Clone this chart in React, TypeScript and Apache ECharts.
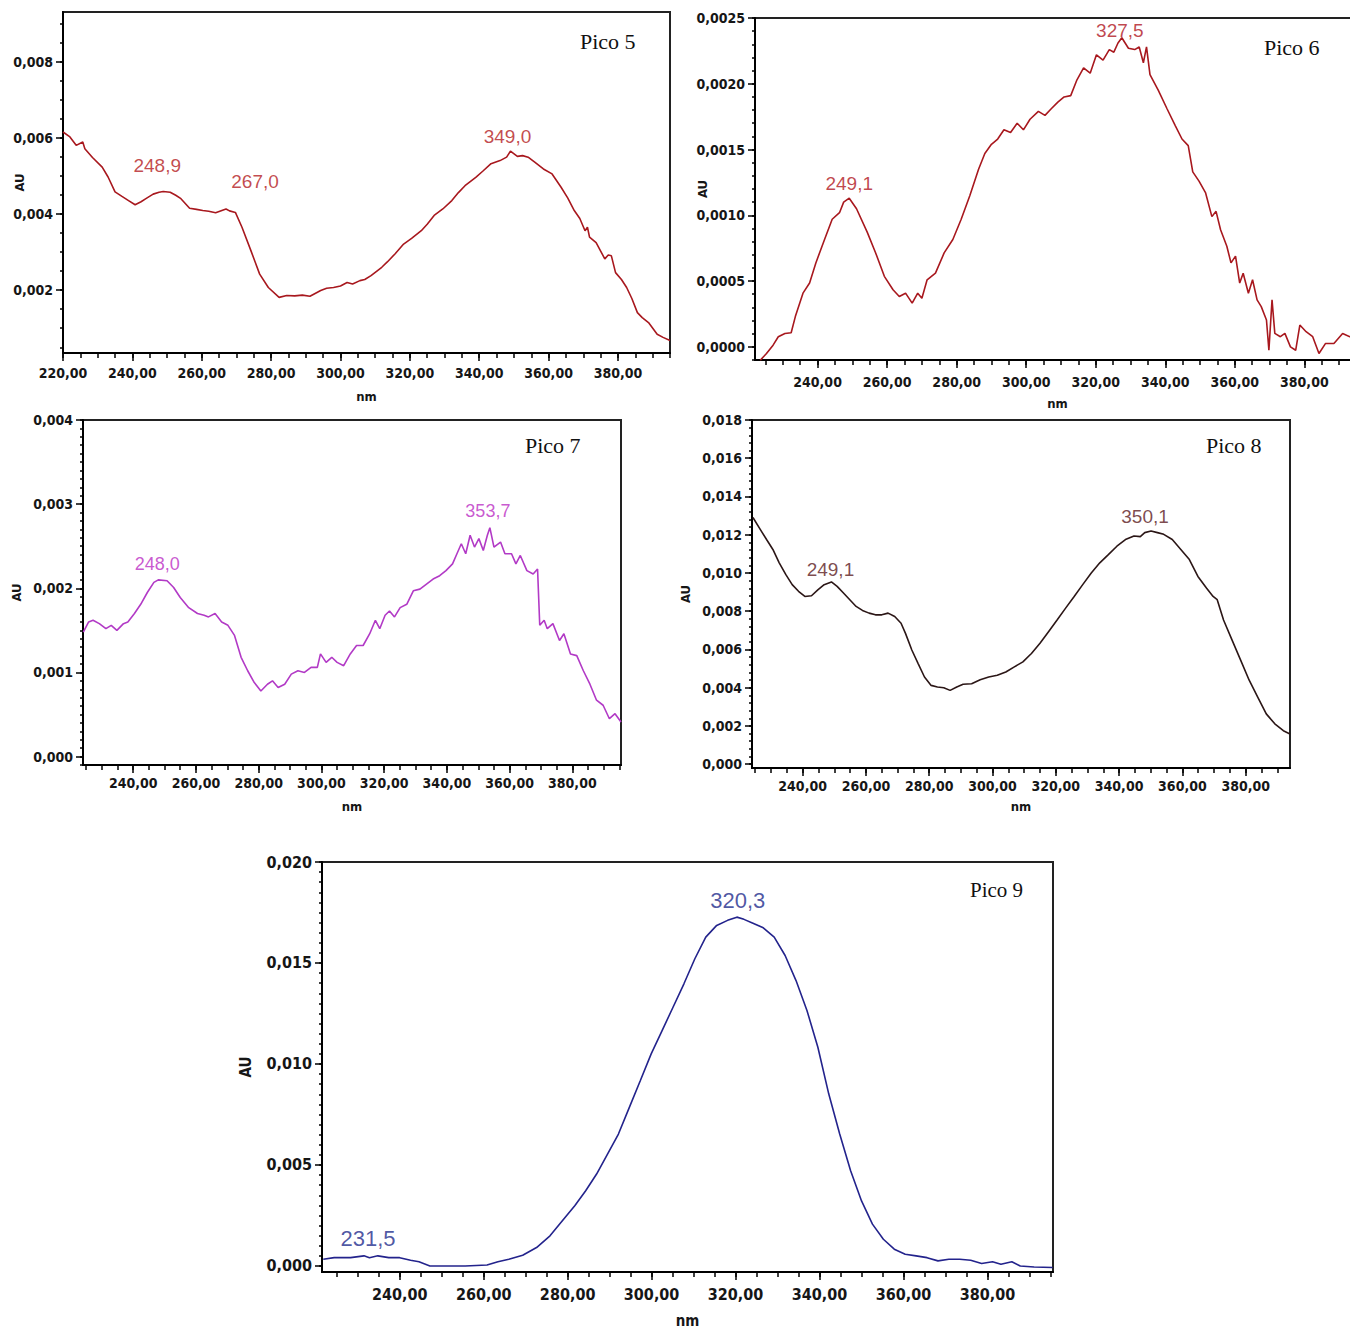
import React, { useEffect, useRef } from "react";
import * as echarts from "echarts";

// ---- Spectra (wavelength in nm, absorbance in AU) ----
const pico5Nm = [220, 222, 223.8, 225.7, 226.3, 228.5, 231.3, 233, 235, 237, 238.9, 240.8, 242.5, 243.9, 246, 247.7, 248.9, 250.9, 252.5, 254, 256.5, 258.5, 260.3, 262, 264, 267, 268, 269.7, 271.6, 274.2, 276.7, 279.2, 282.3, 284.5, 286.8, 289, 291.2, 294.3, 296, 298, 300, 301.9, 303.5, 305.6, 307, 308.8, 311.9, 313.5, 315.7, 318.2, 320.5, 323.3, 325, 327, 329.5, 332.1, 334, 335.9, 339, 341, 343.4, 346, 347.9, 349, 351, 352.5, 354.1, 356, 358.5, 361, 363.6, 365.5, 367.4, 369, 370.5, 371.2, 371.8, 373.7, 376.2, 377.2, 378.1, 379.3, 381, 382.5, 384, 385.6, 387, 388.8, 391.3, 393, 395];
const pico5Au = [0.00615, 0.00602, 0.0058, 0.00589, 0.00571, 0.00548, 0.00523, 0.00497, 0.00458, 0.00446, 0.00435, 0.00424, 0.00432, 0.0044, 0.00452, 0.00457, 0.00459, 0.00457, 0.00449, 0.0044, 0.00415, 0.00412, 0.00409, 0.00407, 0.00403, 0.00413, 0.00408, 0.00404, 0.00365, 0.00303, 0.00242, 0.00207, 0.00181, 0.00186, 0.00185, 0.00187, 0.00184, 0.00199, 0.00205, 0.00207, 0.00211, 0.0022, 0.00216, 0.00225, 0.00228, 0.00238, 0.0026, 0.00274, 0.00295, 0.00321, 0.00336, 0.00356, 0.00373, 0.00396, 0.00413, 0.00435, 0.00456, 0.00474, 0.00496, 0.00512, 0.00532, 0.0054, 0.00549, 0.00565, 0.00551, 0.00553, 0.00549, 0.00536, 0.00518, 0.00505, 0.0047, 0.00442, 0.00409, 0.00388, 0.00356, 0.00365, 0.00339, 0.00325, 0.00282, 0.00292, 0.0029, 0.00246, 0.00228, 0.00207, 0.00178, 0.00141, 0.00128, 0.00115, 0.00084, 0.00076, 0.00068];
const pico5Peaks = [248.9, 267.0, 349.0];

const pico6Nm = [223.5, 225.3, 227.2, 228.7, 230.6, 232.4, 233.6, 235.8, 237.7, 239.5, 242, 244.2, 246.3, 247.5, 249.1, 251.2, 254.3, 256.7, 259.2, 261.7, 263.5, 265.3, 267.2, 268.8, 270, 271.5, 273.9, 276.4, 278.9, 281.3, 283.8, 286.3, 288.1, 290, 291.8, 293.6, 295.5, 297.4, 299.2, 301.1, 303.5, 305.4, 307.2, 309.1, 310.9, 312.8, 314.6, 316.5, 318.4, 320.2, 322.1, 323.9, 325.2, 326.4, 327.5, 329.4, 331.2, 332.5, 333.7, 334.6, 335.6, 338, 340.5, 342.9, 344.8, 346.6, 347.9, 349.7, 351.6, 353.4, 354.6, 355.9, 357.7, 358.9, 360.2, 361.4, 362.4, 363.9, 365.1, 366.4, 367.6, 369.1, 369.8, 370.7, 371.5, 373.1, 374.4, 376, 377.5, 378.7, 380.5, 382.4, 384.2, 386.1, 388.5, 391, 393.1, 395];
const pico6Au = [-0.000102, -0.000051, 0.000013, 0.000077, 0.000102, 0.000107, 0.00023, 0.000408, 0.000485, 0.000638, 0.000816, 0.00097, 0.00102, 0.0011, 0.00113, 0.00105, 0.00087, 0.000714, 0.000536, 0.000434, 0.000383, 0.000408, 0.000332, 0.000408, 0.00037, 0.00051, 0.00056, 0.000714, 0.000816, 0.00097, 0.00115, 0.00135, 0.00147, 0.00154, 0.00158, 0.00165, 0.00163, 0.0017, 0.00165, 0.00173, 0.00179, 0.00176, 0.00181, 0.00186, 0.0019, 0.00191, 0.00203, 0.00212, 0.00208, 0.00222, 0.00218, 0.00226, 0.00224, 0.00231, 0.00235, 0.00227, 0.00226, 0.00228, 0.00216, 0.00228, 0.00207, 0.00195, 0.00181, 0.00168, 0.00158, 0.00153, 0.00133, 0.00126, 0.00117, 0.00099, 0.00103, 0.00089, 0.000765, 0.000638, 0.00069, 0.000485, 0.00056, 0.000408, 0.00051, 0.000357, 0.000306, 0.000204, -0.000026, 0.000357, 0.000102, 0.000077, 0.000102, 0.0, -0.000026, 0.000166, 0.000115, 0.000077, -0.000051, 0.000026, 0.000026, 0.000102, 0.000077, 0.00009];
const pico6Peaks = [249.1, 327.5];

const pico7Nm = [224.1, 225.8, 227.2, 229.2, 231.3, 233, 234.8, 236.9, 238.3, 240.4, 242.4, 244.5, 246.6, 248.0, 250.8, 252.9, 255, 257.7, 260.5, 262.6, 264, 266.1, 268.2, 270.2, 272.3, 274.4, 276.5, 278.6, 280.7, 282.8, 284.4, 286.2, 288.3, 290.4, 292.5, 294.6, 296.7, 298.7, 299.7, 301.5, 303.3, 305, 307.1, 309.2, 311.2, 313.3, 315.4, 317.2, 318.6, 320.3, 321.7, 323.3, 325.1, 327.2, 329.3, 331.4, 333.5, 335.6, 337.7, 339.7, 341.8, 343.2, 344.6, 346, 347.4, 348.8, 350.2, 351.6, 352.9, 353.7, 355, 357.1, 358.5, 360.6, 362, 363.4, 365.5, 367.5, 368.9, 369.6, 371, 372, 373.8, 375.9, 377.3, 379.4, 381.4, 383.5, 385.6, 387.7, 389.8, 391.8, 393.6, 395.5];
const pico7Au = [0.00148, 0.0016, 0.00162, 0.00158, 0.00152, 0.00156, 0.0015, 0.00158, 0.0016, 0.0017, 0.00181, 0.00195, 0.00207, 0.0021, 0.00209, 0.00201, 0.00189, 0.00177, 0.0017, 0.00168, 0.00166, 0.0017, 0.0016, 0.00156, 0.00144, 0.00118, 0.00102, 0.00088, 0.00078, 0.00086, 0.0009, 0.00082, 0.00086, 0.00098, 0.00102, 0.001, 0.00106, 0.00106, 0.00122, 0.00112, 0.00118, 0.00112, 0.00108, 0.00122, 0.00132, 0.00132, 0.00146, 0.00162, 0.00152, 0.00168, 0.00173, 0.00166, 0.00177, 0.00181, 0.00197, 0.00199, 0.00205, 0.00211, 0.00215, 0.00221, 0.00229, 0.00241, 0.00253, 0.00241, 0.00263, 0.00249, 0.00259, 0.00245, 0.00263, 0.00272, 0.00249, 0.00255, 0.00241, 0.00241, 0.00229, 0.00239, 0.00221, 0.00217, 0.00223, 0.00156, 0.00162, 0.00152, 0.00158, 0.00138, 0.00146, 0.00122, 0.0012, 0.00102, 0.00086, 0.00067, 0.00061, 0.00045, 0.00051, 0.00041];
const pico7Peaks = [248.0, 353.7];

const pico8Nm = [224.3, 226.6, 228.6, 230.6, 232.6, 234.7, 236.7, 238.7, 240.7, 242.8, 244.8, 246.8, 249.1, 250.9, 252.9, 254.9, 256.9, 258.9, 261, 263, 265, 267, 269.1, 271.1, 272.5, 274.5, 276.5, 278.5, 280.6, 282.6, 284.6, 286.6, 288.7, 290.7, 293.4, 296.1, 298.8, 301.5, 304.2, 306.9, 309.6, 312.3, 315, 317.7, 320.4, 323.1, 325.8, 328.5, 331.2, 333.9, 336.6, 339.3, 342, 344.7, 346.7, 348.1, 350.1, 352.1, 354.1, 356.8, 359.5, 362.2, 364.9, 367.6, 369.7, 371, 373, 375.7, 378.4, 381.1, 383.8, 386.5, 389.2, 391.9, 394];
const pico8Au = [0.0129, 0.01228, 0.01175, 0.01123, 0.01053, 0.00991, 0.00939, 0.00904, 0.00877, 0.00881, 0.00912, 0.00939, 0.00953, 0.0093, 0.00895, 0.0086, 0.00825, 0.00804, 0.0079, 0.00781, 0.00781, 0.0079, 0.00772, 0.00737, 0.00684, 0.00597, 0.00526, 0.00456, 0.00412, 0.00404, 0.004, 0.00386, 0.00404, 0.00418, 0.00421, 0.00442, 0.00456, 0.00465, 0.00482, 0.00509, 0.00535, 0.00579, 0.00632, 0.00693, 0.00754, 0.00816, 0.00877, 0.00939, 0.01, 0.01053, 0.01096, 0.0114, 0.01175, 0.01193, 0.0119, 0.01211, 0.01219, 0.01211, 0.01202, 0.01175, 0.01123, 0.0107, 0.00982, 0.00921, 0.00877, 0.0086, 0.00754, 0.00649, 0.00544, 0.00439, 0.00351, 0.00263, 0.00211, 0.00175, 0.00158];
const pico8Peaks = [249.1, 350.1];

const pico9Nm = [221.8, 224.4, 228.3, 231.5, 232.8, 234.8, 237.4, 240, 242.6, 244.6, 247.2, 250.4, 255.6, 260.8, 263.4, 266, 269.3, 272.6, 275.8, 278.4, 281.7, 284.3, 286.9, 289.5, 292.1, 294.7, 297.3, 299.9, 302.5, 305.1, 307.7, 310.3, 312.9, 315.5, 318.1, 320.3, 322, 324, 326.6, 329.2, 331.8, 334.4, 337, 339.6, 342.2, 344.8, 347.4, 350, 352.6, 355.2, 357.8, 360.4, 363, 365.6, 368.2, 370.8, 373.4, 376, 378.6, 381.2, 383.2, 385.8, 387.8, 391.1, 395.5];
const pico9Au = [0.00033, 0.00041, 0.00041, 0.0005, 0.00041, 0.0005, 0.00041, 0.00041, 0.00028, 0.00021, 0.0, 0.0, 0.0, 0.00005, 0.00021, 0.00033, 0.00053, 0.00091, 0.00149, 0.00215, 0.00298, 0.00372, 0.00455, 0.00554, 0.00653, 0.00785, 0.00917, 0.0105, 0.01165, 0.01281, 0.01397, 0.01521, 0.01628, 0.01686, 0.01711, 0.01727, 0.01716, 0.01698, 0.01674, 0.01628, 0.01537, 0.01413, 0.01265, 0.01083, 0.00851, 0.00653, 0.00471, 0.00322, 0.00207, 0.00132, 0.00083, 0.00058, 0.0005, 0.00041, 0.00025, 0.00033, 0.00033, 0.00028, 0.00012, 0.00021, 0.00008, 0.00021, 0.0, -0.00005, -0.00008];
const pico9Peaks = [231.5, 320.3];

// ---- Tick labels ----
const xTicksFrom220 = [220, 240, 260, 280, 300, 320, 340, 360, 380];
const xTicksFrom240 = [240, 260, 280, 300, 320, 340, 360, 380];
const yTicks5 = [0.002, 0.004, 0.006, 0.008];
const yTicks6 = [0, 0.0005, 0.001, 0.0015, 0.002, 0.0025];
const yTicks7 = [0, 0.001, 0.002, 0.003, 0.004];
const yTicks8 = [0, 0.002, 0.004, 0.006, 0.008, 0.01, 0.012, 0.014, 0.016, 0.018];
const yTicks9 = [0, 0.005, 0.01, 0.015, 0.02];

type Panel = {
  title: string;
  nm: number[];
  au: number[];
  peaks: number[];
  xTicks: number[];
  yTicks: number[];
  yDec: number;
  yMinorStep: number;
  // layout / style
  box: [number, number, number, number]; // left, top, right, bottom (px)
  xRange: [number, number];
  yRange: [number, number];
  lineColor: string;
  labelColor: string;
  peakOffsets: [number, number][];
  titleAt: [number, number];
  titleSize: number;
  tickFont: number;
  peakFont: number;
  xLabelMargin: number;
  xNameGap: number;
  yNameGap: number;
};

const panels: Panel[] = [
  {
    title: "Pico 5", nm: pico5Nm, au: pico5Au, peaks: pico5Peaks,
    xTicks: xTicksFrom220, yTicks: yTicks5, yDec: 3, yMinorStep: 0.0005,
    box: [63, 12, 670, 353], xRange: [220, 395], yRange: [0.00035, 0.0093],
    lineColor: "#a8181e", labelColor: "#b41a22",
    peakOffsets: [[-6, -16], [29, -17], [-3, -5]],
    titleAt: [580, 30], titleSize: 22, tickFont: 14, peakFont: 19,
    xLabelMargin: 13, xNameGap: 37, yNameGap: 37,
  },
  {
    title: "Pico 6", nm: pico6Nm, au: pico6Au, peaks: pico6Peaks,
    xTicks: xTicksFrom240, yTicks: yTicks6, yDec: 4, yMinorStep: 0.0001,
    box: [755, 18, 1360, 360], xRange: [222, 396], yRange: [-0.0001, 0.0025],
    lineColor: "#a8181e", labelColor: "#b0161e",
    peakOffsets: [[0, -5], [-2, 3]],
    titleAt: [1264, 36], titleSize: 22, tickFont: 14, peakFont: 19,
    xLabelMargin: 15, xNameGap: 37, yNameGap: 46,
  },
  {
    title: "Pico 7", nm: pico7Nm, au: pico7Au, peaks: pico7Peaks,
    xTicks: xTicksFrom240, yTicks: yTicks7, yDec: 3, yMinorStep: 0.0001,
    box: [83, 420, 621, 765], xRange: [224, 395.5], yRange: [-0.0001, 0.004],
    lineColor: "#b23ac6", labelColor: "#bb2ec4",
    peakOffsets: [[-1, -6], [-2, -7]],
    titleAt: [525, 434], titleSize: 22, tickFont: 14, peakFont: 18,
    xLabelMargin: 11, xNameGap: 35, yNameGap: 60,
  },
  {
    title: "Pico 8", nm: pico8Nm, au: pico8Au, peaks: pico8Peaks,
    xTicks: xTicksFrom240, yTicks: yTicks8, yDec: 3, yMinorStep: 0.0004,
    box: [752, 420, 1290, 768], xRange: [224, 394], yRange: [-0.0002, 0.018],
    lineColor: "#2b1616", labelColor: "#5c1a1e",
    peakOffsets: [[-1, -2], [-6, -5]],
    titleAt: [1206, 434], titleSize: 22, tickFont: 14, peakFont: 19,
    xLabelMargin: 11, xNameGap: 32, yNameGap: 60,
  },
  {
    title: "Pico 9", nm: pico9Nm, au: pico9Au, peaks: pico9Peaks,
    xTicks: xTicksFrom240, yTicks: yTicks9, yDec: 3, yMinorStep: 0.0005,
    box: [322, 862, 1053, 1272], xRange: [221.5, 395.6], yRange: [-0.0003, 0.02],
    lineColor: "#23238c", labelColor: "#1f2c8c",
    peakOffsets: [[4, -6], [1, -5]],
    titleAt: [970, 879], titleSize: 21, tickFont: 16, peakFont: 22,
    xLabelMargin: 14, xNameGap: 41, yNameGap: 69,
  },
];

const TICK_FONT = "'Liberation Sans Narrow', 'DejaVu Sans Condensed', 'Liberation Sans', Arial, sans-serif";
const PEAK_FONT = "'Liberation Sans Narrow', 'Liberation Sans', Arial, sans-serif";
const TITLE_FONT = "'Liberation Serif', 'Times New Roman', serif";

const comma = (v: number, d: number) => v.toFixed(d).replace(".", ",");

function stepValues(min: number, max: number, step: number): number[] {
  const out: number[] = [];
  const start = Math.ceil(min / step - 1e-9);
  const end = Math.floor(max / step + 1e-9);
  for (let k = start; k <= end; k++) out.push(+(k * step).toFixed(6));
  return out;
}

function auAt(p: Panel, wl: number): number {
  let best = 0;
  for (let i = 1; i < p.nm.length; i++) {
    if (Math.abs(p.nm[i] - wl) < Math.abs(p.nm[best] - wl)) best = i;
  }
  return p.au[best];
}

function buildOption(): echarts.EChartsOption {
  const grid: any[] = [];
  const xAxis: any[] = [];
  const yAxis: any[] = [];
  const series: any[] = [];
  const title: any[] = [];

  panels.forEach((p, i) => {
    const [l, t, r, b] = p.box;
    grid.push({
      left: l, top: t, width: r - l, height: b - t,
      show: true, borderColor: "#222", borderWidth: 2,
      backgroundColor: "transparent", containLabel: false, outerBoundsMode: "none",
    });

    const tickLabelStyle = {
      fontFamily: TICK_FONT, fontSize: p.tickFont, fontWeight: "bold", color: "#161616",
    };

    // main x axis: labelled ticks every 20 nm
    xAxis.push({
      type: "value", gridIndex: i, min: p.xRange[0], max: p.xRange[1], position: "bottom",
      axisLine: { show: true, onZero: false, lineStyle: { color: "#000", width: 2 } },
      axisTick: { show: true, length: 8, customValues: p.xTicks, lineStyle: { color: "#000", width: 1.5 } },
      axisLabel: {
        show: true, customValues: p.xTicks, margin: p.xLabelMargin,
        formatter: (v: number) => comma(v, 2), ...tickLabelStyle,
      },
      splitLine: { show: false },
      name: "nm", nameLocation: "middle", nameGap: p.xNameGap,
      nameTextStyle: { fontFamily: TICK_FONT, fontSize: p.tickFont - 1, fontWeight: "bold", color: "#161616" },
    });
    // minor x ticks every 5 nm
    xAxis.push({
      type: "value", gridIndex: i, min: p.xRange[0], max: p.xRange[1], position: "bottom",
      axisLine: { show: false, onZero: false },
      axisTick: { show: true, length: 5, customValues: stepValues(p.xRange[0], p.xRange[1], 5), lineStyle: { color: "#000", width: 1.5 } },
      axisLabel: { show: false },
      splitLine: { show: false },
    });

    // main y axis
    yAxis.push({
      type: "value", gridIndex: i, min: p.yRange[0], max: p.yRange[1], position: "left",
      axisLine: { show: true, onZero: false, lineStyle: { color: "#000", width: 2 } },
      axisTick: { show: true, length: 7, customValues: p.yTicks, lineStyle: { color: "#000", width: 1.5 } },
      axisLabel: {
        show: true, customValues: p.yTicks, margin: 10,
        formatter: (v: number) => comma(v, p.yDec), ...tickLabelStyle,
      },
      splitLine: { show: false },
      name: "AU", nameLocation: "middle", nameRotate: 90, nameGap: p.yNameGap,
      nameMoveOverlap: false,
      nameTextStyle: { fontFamily: TICK_FONT, fontSize: p.tickFont - 1, fontWeight: "bold", color: "#161616" },
    });
    // minor y ticks
    yAxis.push({
      type: "value", gridIndex: i, min: p.yRange[0], max: p.yRange[1], position: "left",
      axisLine: { show: false, onZero: false },
      axisTick: { show: true, length: 3, customValues: stepValues(p.yRange[0], p.yRange[1], p.yMinorStep), lineStyle: { color: "#000", width: 1.5 } },
      axisLabel: { show: false },
      splitLine: { show: false },
    });

    series.push({
      type: "line", xAxisIndex: 2 * i, yAxisIndex: 2 * i,
      data: p.nm.map((x, k) => [x, p.au[k]]),
      showSymbol: false, symbol: "none", smooth: false, clip: true,
      lineStyle: { color: p.lineColor, width: 1.6 },
      silent: true,
    });

    series.push({
      type: "scatter", xAxisIndex: 2 * i, yAxisIndex: 2 * i,
      symbolSize: 1, itemStyle: { color: "rgba(0,0,0,0)" },
      data: p.peaks.map((wl, k) => ({
        value: [wl, auAt(p, wl)],
        label: {
          show: true, position: "top", distance: 0, offset: p.peakOffsets[k],
          formatter: () => comma(wl, 1),
          fontFamily: PEAK_FONT, fontSize: p.peakFont, color: p.labelColor,
        },
      })),
      silent: true, z: 5,
    });

    title.push({
      text: p.title, left: p.titleAt[0], top: p.titleAt[1], padding: 0,
      textStyle: { fontFamily: TITLE_FONT, fontSize: p.titleSize, fontWeight: "normal", color: "#111" },
    });
  });

  return {
    animation: false,
    backgroundColor: "#ffffff",
    title, grid, xAxis, yAxis, series,
  } as any;
}

export default function App() {
  const ref = useRef<HTMLDivElement>(null);
  useEffect(() => {
    if (!ref.current) return;
    const chart = echarts.init(ref.current, undefined, { renderer: "svg" });
    chart.setOption(buildOption());
    return () => chart.dispose();
  }, []);
  return (
    <div
      ref={ref}
      style={{ position: "absolute", left: 0, top: 0, width: 1350, height: 1329, background: "#fff" }}
    />
  );
}
